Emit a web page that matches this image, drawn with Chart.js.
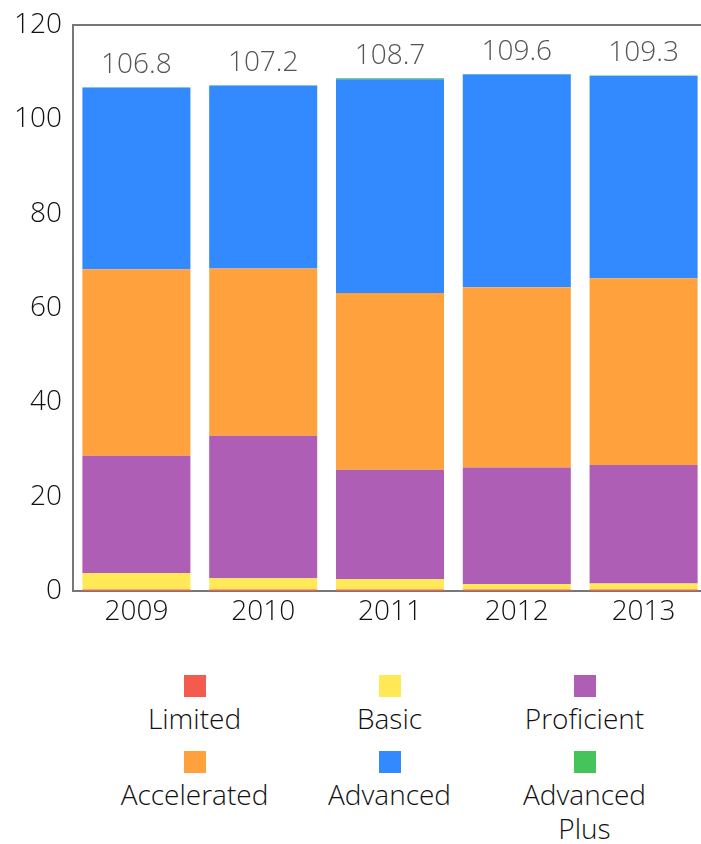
<!DOCTYPE html>
<html>
<head>
<meta charset="utf-8">
<script src="https://cdn.jsdelivr.net/npm/chart.js@4"></script>
<style>
  html, body { margin:0; padding:0; background:#fff; overflow:hidden; width:701px; height:844px; }
  #wrap { position:absolute; left:0; top:0; width:707px; height:650px; }
  #legend { position:absolute; left:97px; top:675px; width:585px; display:grid; grid-template-columns:195px 195px 195px; row-gap:16px;
            font-family:"Open Sans", sans-serif; font-weight:300; font-size:28px; line-height:34px; color:#111; }
  .item { display:flex; flex-direction:column; align-items:center; text-align:center; }
  .sw { width:22px; height:22px; margin-bottom:4px; }
  .lbl { max-width:160px; }
</style>
</head>
<body>
<div id="wrap"><canvas id="c"></canvas></div>
<div id="legend"></div>
<script>
const years = ["2009", "2010", "2011", "2012", "2013"];
const limited      = [0.3, 0.3, 0.3, 0.3, 0.3];
const basic        = [3.5, 2.4, 2.2, 1.2, 1.3];
const proficient   = [24.9, 30.2, 23.2, 24.7, 25.1];
const accelerated  = [39.5, 35.5, 37.5, 38.2, 39.6];
const advanced     = [38.5, 38.7, 45.3, 45.1, 42.9];
const advancedPlus = [0.1, 0.1, 0.2, 0.1, 0.1];
const totals       = [106.8, 107.2, 108.7, 109.6, 109.3];
const yTicks       = [0, 20, 40, 60, 80, 100, 120];

const seriesNames  = ["Limited", "Basic", "Proficient", "Accelerated", "Advanced", "Advanced Plus"];
const seriesData   = [limited, basic, proficient, accelerated, advanced, advancedPlus];
const seriesColors = ["#F45B4F", "#FFE957", "#AE5FB5", "#FFA23E", "#338AFF", "#44C45A"];

const FONT = '"Open Sans", sans-serif';

const totalsPlugin = {
  id: 'totals',
  afterDatasetsDraw(chart) {
    const ctx = chart.ctx;
    const y = chart.scales.y;
    const meta = chart.getDatasetMeta(0);
    ctx.save();
    ctx.font = '300 28px ' + FONT;
    ctx.fillStyle = '#555';
    ctx.textAlign = 'center';
    ctx.textBaseline = 'middle';
    meta.data.forEach((bar, i) => {
      ctx.fillText(totals[i].toFixed(1), bar.x, y.getPixelForValue(totals[i]) - 22);
    });
    ctx.restore();
  },
  afterDraw(chart) {
    const a = chart.chartArea;
    const ctx = chart.ctx;
    ctx.save();
    ctx.strokeStyle = '#777';
    ctx.lineWidth = 2;
    ctx.beginPath();
    ctx.moveTo(a.left - 1, a.top);
    ctx.lineTo(a.right, a.top);
    ctx.stroke();
    ctx.restore();
  }
};

new Chart(document.getElementById('c'), {
  type: 'bar',
  data: {
    labels: years,
    datasets: seriesNames.map((n, i) => ({
      label: n,
      data: seriesData[i],
      backgroundColor: seriesColors[i],
      borderWidth: 0,
      barPercentage: 1,
      categoryPercentage: 0.852
    }))
  },
  options: {
    responsive: true,
    maintainAspectRatio: false,
    animation: false,
    layout: { padding: { top: 23, left: 0, right: 0, bottom: 0 } },
    plugins: { legend: { display: false }, tooltip: { enabled: false } },
    scales: {
      x: {
        stacked: true,
        grid: { display: false, drawTicks: false },
        border: { display: true, color: '#777', width: 2 },
        ticks: { font: { family: FONT, size: 28, weight: 300 }, color: '#111', padding: 4, maxRotation: 0 },
        afterFit(s) { s.height = 59; }
      },
      y: {
        stacked: true,
        min: 0, max: 120,
        afterBuildTicks(s) { s.ticks = yTicks.map(v => ({ value: v })); },
        grid: { display: false, drawTicks: false },
        border: { display: true, color: '#777', width: 2 },
        ticks: { font: { family: FONT, size: 28, weight: 300, lineHeight: 1 }, color: '#111', padding: 11 },
        afterFit(s) { s.width = 73; }
      }
    }
  },
  plugins: [totalsPlugin]
});

const leg = document.getElementById('legend');
seriesNames.forEach((n, i) => {
  const it = document.createElement('div');
  it.className = 'item';
  const sw = document.createElement('div');
  sw.className = 'sw';
  sw.style.background = seriesColors[i];
  const lb = document.createElement('div');
  lb.className = 'lbl';
  lb.textContent = n;
  it.appendChild(sw);
  it.appendChild(lb);
  leg.appendChild(it);
});
</script>
</body>
</html>
